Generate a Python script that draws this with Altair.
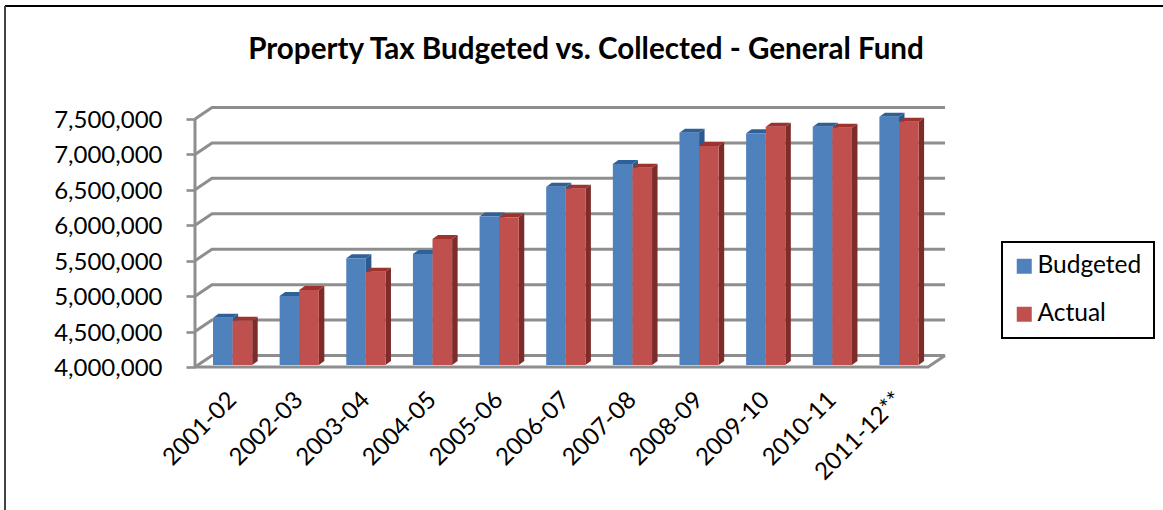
import json

import altair as alt
import pandas as pd

# Fiscal years and general-fund property tax, in dollars
years = ["2001-02", "2002-03", "2003-04", "2004-05", "2005-06", "2006-07",
         "2007-08", "2008-09", "2009-10", "2010-11", "2011-12**"]
budgeted = [4667000, 4974000, 5505000, 5566000, 6095000, 6516000,
            6837000, 7278000, 7270000, 7363000, 7505000]
actual = [4625000, 5058000, 5317000, 5778000, 6085000, 6488000,
          6785000, 7090000, 7363000, 7349000, 7434000]
series_names = ["Budgeted", "Actual"]
front_colors = ["#4F81BD", "#C0504D"]
top_colors = ["#2F6199", "#9E322F"]
side_colors = ["#2C5A8F", "#7D2C2A"]

# Pixel geometry of the pseudo-3D box, converted to data units below
PLOT_W, PLOT_H = 750, 260
PX_PER_YEAR = 66.64
PX_PER_STEP = 35.43
TICK_STEP = 500000
Y_MIN, Y_MAX_TICK = 4000000, 7500000

x_unit = 1 / PX_PER_YEAR
y_unit = TICK_STEP / PX_PER_STEP
wall_dx, wall_dy = 17 * x_unit, 11.5 * y_unit
x_end = len(years) + wall_dx
y_top = Y_MIN + PLOT_H * y_unit

bar_start = 18 * x_unit
bar_w = 19.6 * x_unit
bar_dx, bar_dy = 5.5 * x_unit, 4 * y_unit
base = Y_MIN + 2 * y_unit

# Front faces carry the values; side and top faces are extruded from them
fronts, faces = [], []
for s, (name, values) in enumerate(zip(series_names, [budgeted, actual])):
    for i, v in enumerate(values):
        x0 = i + bar_start + s * bar_w
        x1 = x0 + bar_w
        y_val = v - Y_MIN + base
        fronts.append({"series": name, "x": x0, "x2": x1, "y": base, "y2": y_val})
        side = [(x1, base, y_val), (x1 + bar_dx, base + bar_dy, y_val + bar_dy)]
        top = [(x0, y_val, y_val), (x0 + bar_dx, y_val, y_val + bar_dy),
               (x1, y_val, y_val + bar_dy), (x1 + bar_dx, y_val + bar_dy, y_val + bar_dy)]
        for face, pts, shade in [("side", side, side_colors[s]), ("top", top, top_colors[s])]:
            for x, lo, hi in pts:
                faces.append({"id": f"{s}-{i:02d}-{face}", "shade": shade,
                              "x": x, "y": lo, "y2": hi})

# Wall gridlines, the floor edge and the left post of the box
lines = []
tick_values = list(range(Y_MIN, Y_MAX_TICK + 1, TICK_STEP))
for v in tick_values:
    for order, (x, y) in enumerate([(0, v), (wall_dx, v + wall_dy), (x_end, v + wall_dy)]):
        lines.append({"id": f"wall-{v}", "order": order, "x": x, "y": y})
for order, (x, y) in enumerate([(0, Y_MIN), (len(years), Y_MIN), (x_end, Y_MIN + wall_dy)]):
    lines.append({"id": "floor", "order": order, "x": x, "y": y})
for order, v in enumerate([Y_MIN, Y_MAX_TICK]):
    lines.append({"id": "post", "order": order, "x": 0, "y": v})

x_scale = alt.Scale(domain=[0, PLOT_W * x_unit], nice=False, zero=False)
y_scale = alt.Scale(domain=[Y_MIN, y_top], nice=False, zero=False)

x_axis = alt.Axis(
    values=[i + 0.5 for i in range(len(years))],
    labelExpr=f"{json.dumps(years)}[floor(datum.value)]",
    labelAngle=-45, labelAlign="right", labelBaseline="middle",
    labelFont="Lato", labelFontSize=24, labelColor="#000000",
    labelPadding=29, labelOffset=4, labelOverlap=False, labelBound=False, labelFlush=False,
    domain=False, ticks=False, grid=False, title=None,
)
y_axis = alt.Axis(
    values=tick_values,
    labelExpr="format(datum.value, ',.0f')",
    labelFont="Lato", labelFontSize=24, labelColor="#000000", labelPadding=24, labelOffset=1.5,
    labelOverlap=False, labelBound=False, labelFlush=False,
    domain=False, grid=False, title=None,
    ticks=True, tickSize=9, tickWidth=2.6, tickColor="#8E8E8E",
)

grid = alt.Chart(pd.DataFrame(lines)).mark_line(
    color="#8E8E8E", strokeWidth=3, strokeJoin="miter"
).encode(
    x=alt.X("x:Q", scale=x_scale, axis=x_axis),
    y=alt.Y("y:Q", scale=y_scale, axis=y_axis),
    detail="id:N",
    order="order:O",
)

extrusion = alt.Chart(pd.DataFrame(faces)).mark_area(strokeWidth=0, interpolate="linear").encode(
    x=alt.X("x:Q", scale=x_scale, axis=x_axis),
    y=alt.Y("y:Q", scale=y_scale, axis=y_axis),
    y2="y2:Q",
    detail="id:N",
    fill=alt.Fill("shade:N", scale=None),
)

front = alt.Chart(pd.DataFrame(fronts)).mark_rect(strokeWidth=0).encode(
    x=alt.X("x:Q", scale=x_scale, axis=x_axis),
    x2="x2:Q",
    y=alt.Y("y:Q", scale=y_scale, axis=y_axis),
    y2="y2:Q",
    color=alt.Color(
        "series:N",
        scale=alt.Scale(domain=series_names, range=front_colors),
        legend=alt.Legend(
            title=None, orient="none", legendX=807, legendY=135,
            symbolType="square", symbolSize=225, symbolStrokeWidth=0, symbolOffset=-2,
            labelFont="Lato", labelFontSize=24.5, labelColor="#000000",
            labelOffset=1, rowPadding=23, padding=12,
            fillColor="#FFFFFF", strokeColor="#000000",
        ),
    ),
)

# Outer chart frame, open at the right and bottom
frame_top = alt.Chart(pd.DataFrame({"k": [0]})).mark_rule(color="#000000", strokeWidth=2).encode(
    x=alt.value(-190), x2=alt.value(968), y=alt.value(-101)
)
frame_left = alt.Chart(pd.DataFrame({"k": [0]})).mark_rule(color="#444444", strokeWidth=2).encode(
    x=alt.value(-190), y=alt.value(-101), y2=alt.value(403)
)

chart = alt.layer(frame_top, frame_left, grid, extrusion, front).properties(
    width=PLOT_W,
    height=PLOT_H,
    autosize=alt.AutoSizeParams(type="none"),
    padding={"left": 195, "top": 107, "right": 218, "bottom": 143},
    background="#FFFFFF",
    title=alt.TitleParams(
        "Property Tax Budgeted vs. Collected - General Fund",
        font="Lato", fontSize=29.6, fontWeight="bold", color="#000000",
        anchor="middle", frame="group", dx=16, offset=-61,
    ),
).configure_view(stroke=None).configure_legend(strokeWidth=2)

chart.save("out.html", embed_options={"renderer": "svg", "actions": False})
